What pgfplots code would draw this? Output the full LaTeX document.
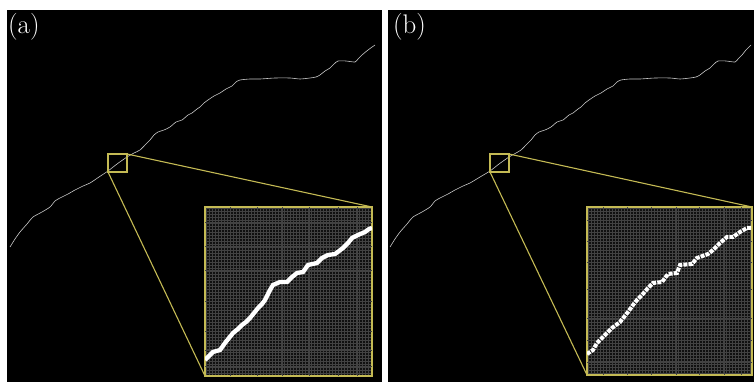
\documentclass[border=0pt]{standalone}
\usepackage{fontspec}
\usepackage{pgfplots}
\pgfplotsset{compat=1.18}
\definecolor{yel}{RGB}{196,186,84}
\definecolor{curv}{RGB}{200,200,200}
\definecolor{insbg}{RGB}{16,16,16}
\definecolor{gridc}{RGB}{66,66,66}
\definecolor{gridb}{RGB}{115,115,115}
\pgfplotsset{
  inset/.style={
    at={#1}, anchor=south west, scale only axis,
    y dir=reverse,
    axis background/.style={fill=insbg},
    axis line style={yel, line width=1.3bp},
    xticklabels={}, yticklabels={},
    major tick length=0pt,
    grid=major,
    major grid style={gridc, line width=0.4bp},
    extra tick style={grid style={gridb, line width=0.5bp}, major tick length=0pt},
    extra x tick labels={}, extra y tick labels={},
  }
}
\begin{document}
\begin{tikzpicture}
\begin{axis}[at={(0,0)}, anchor=south west, scale only axis,
  width=754bp, height=382bp, xmin=0, xmax=754, ymin=0, ymax=382,
  y dir=reverse, hide axis, clip=false]
\addplot[fill=white, draw=none] coordinates {(0,0)(754,0)(754,382)(0,382)} -- cycle;
\addplot[fill=black, draw=none] coordinates {(7,10)(382,10)(382,382)(7,382)} -- cycle;
\addplot[fill=black, draw=none] coordinates {(388,10)(754,10)(754,382)(388,382)} -- cycle;
% curve (a)
\addplot[curv, line width=0.6bp, smooth, tension=0.4] coordinates {
(10,247)(15,239)(20,232)(27,224)(33,217)(42,212)(50,207)(55,201)(60,198)(68,194)(75,190)(83,186)(90,183)(99,177)(108,171)(117,164)(127,157)(134,153)(140,150)(146,144)(150,140)(154,135)(158,132)(164,130)(170,127)(176,122)(182,120)(188,115)(192,113)(197,109)(200,107)(204,103)(208,100)(214,96)(220,93)(226,89)(232,86)(236,82)(240,80)(250,79)(260,79)(275,78)(290,78)(300,79)(310,78)(316,77)(320,75)(325,71)(330,68)(334,64)(338,61)(346,61)(355,62)(358,59)(362,55)(368,50)(375,45)};
% curve (b)
\addplot[curv, line width=0.6bp, smooth, tension=0.4] coordinates {
(390,247)(395,239)(400,232)(407,224)(413,217)(422,212)(430,207)(435,201)(440,198)(448,194)(455,190)(463,186)(470,183)(480,177)(490,171)(499,164)(509,157)(516,153)(521,150)(527,144)(531,140)(535,135)(539,132)(545,130)(551,127)(557,122)(563,120)(569,115)(573,113)(578,109)(581,107)(585,103)(589,100)(595,96)(601,93)(607,89)(613,86)(617,82)(621,80)(630,79)(640,79)(655,78)(670,78)(680,79)(690,78)(696,77)(700,75)(705,71)(710,68)(714,64)(718,61)(726,61)(735,62)(738,59)(742,55)(746,50)(751,45)};
% zoom boxes
\addplot[yel, line width=1.1bp] coordinates {(108,154)(127,154)(127,172)(108,172)} -- cycle;
\addplot[yel, line width=1.1bp] coordinates {(490,154)(509,154)(509,172)(490,172)} -- cycle;
\addplot[yel, line width=1.1bp] coordinates {(127,154)(372,207)};
\addplot[yel, line width=1.1bp] coordinates {(108,172)(205,376)};
\addplot[yel, line width=1.1bp] coordinates {(509,154)(752,207)};
\addplot[yel, line width=1.1bp] coordinates {(490,172)(587,375)};
\end{axis}
\node[white, anchor=north west, inner sep=0pt] at (8bp,369bp) {\fontsize{27}{30}\selectfont (a)};
\node[white, anchor=north west, inner sep=0pt] at (393bp,369bp) {\fontsize{27}{30}\selectfont (b)};
% inset (a)
\begin{axis}[inset={(205bp,6bp)}, width=167bp, height=169bp,
  xmin=205, xmax=372, ymin=207, ymax=376,
  xtick={206,209,...,372}, ytick={208,211,...,376},
  extra x ticks={230,257,282,309,338,357},
  extra y ticks={222,246,270,301,331,350,366}]
\addplot[white, line width=4.3bp, line join=miter] coordinates {
(205,360)(207,358)(213,352)(220,350)(225,343)(229,338)(233,333)(238,329)(242,325)(246,322)(250,318)(254,313)(258,308)(262,304)(265,300)(268,294)(270,290)(273,285)(280,282)(287,282)(292,277)(297,273)(303,272)(308,265)(317,263)(322,258)(328,255)(335,254)(339,251)(343,248)(348,243)(352,238)(358,235)(365,232)(369,229)(372,228)};
\end{axis}
% inset (b)
\begin{axis}[inset={(587bp,7bp)}, width=165bp, height=168bp,
  xmin=587, xmax=752, ymin=207, ymax=375,
  xtick={588,591,...,752}, ytick={208,211,...,375},
  extra x ticks={603,627,651,676,699,724,741},
  extra y ticks={220,241,262,289,318,340,362}]
\addplot[white, line width=4bp, dash pattern=on 4bp off 1.1bp] coordinates {
(587,354)(593,350)(597,343)(603,337)(608,332)(612,328)(616,325)(620,322)(624,317)(628,312)(633,305)(637,300)(642,295)(648,288)(653,283)(662,282)(668,274)(677,273)(680,265)(692,264)(697,258)(708,254)(713,250)(716,247)(720,243)(727,237)(733,237)(740,232)(747,228)(752,228)};
\end{axis}
\end{tikzpicture}
\end{document}
